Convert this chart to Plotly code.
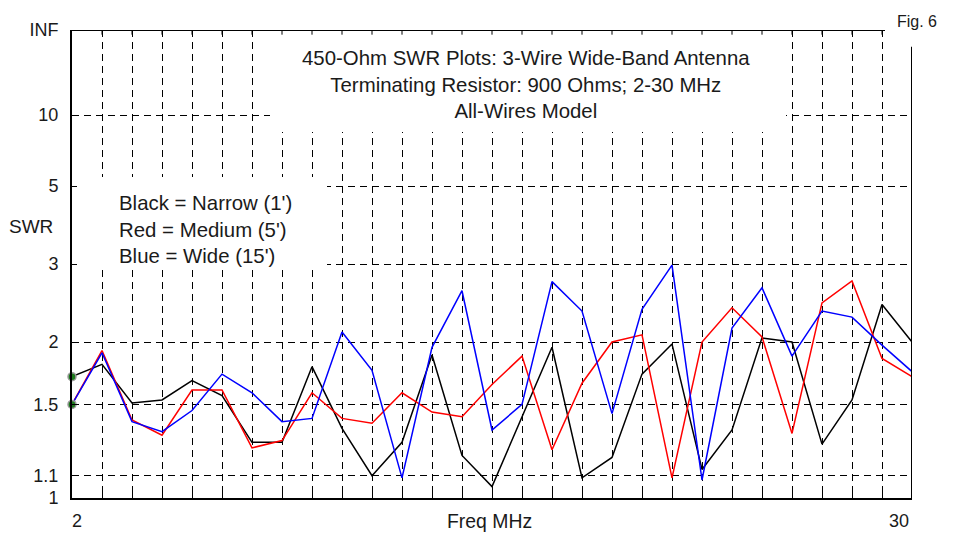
import numpy as np
import plotly.graph_objects as go

# frequency sweep, 2-30 MHz in 1 MHz steps
freq_mhz = list(range(2, 31))

# SWR (450-ohm reference)
swr_black = [1.70, 1.80, 1.51, 1.53, 1.67, 1.56, 1.27, 1.27, 1.78, 1.35,
             1.10, 1.27, 1.88, 1.20, 1.05, 1.42, 1.95, 1.09, 1.19, 1.72,
             1.98, 1.13, 1.34, 2.04, 2.00, 1.26, 1.53, 2.41, 2.00]
swr_red = [1.50, 1.92, 1.40, 1.31, 1.60, 1.60, 1.24, 1.28, 1.58, 1.41,
           1.38, 1.58, 1.45, 1.42, 1.64, 1.87, 1.23, 1.65, 2.00, 2.07,
           1.09, 2.00, 2.37, 2.05, 1.32, 2.43, 2.73, 1.85, 1.70]
swr_blue = [1.50, 1.90, 1.39, 1.33, 1.46, 1.72, 1.58, 1.39, 1.41, 2.10,
            1.75, 1.09, 1.95, 2.59, 1.34, 1.50, 2.72, 2.33, 1.44, 2.35,
            2.98, 1.08, 2.14, 2.63, 1.87, 2.33, 2.26, 1.97, 1.74]

swr_ticks = [1, 1.1, 1.5, 2, 3, 5, 10]
swr_tick_text = ["1", "1.1", "1.5", "2", "3", "5", "10", "INF"]

FONT = "Liberation Sans, Arial, sans-serif"
TXT = "#1a1a1a"


def refl(swr):
    # SWR axis is linear in reflection coefficient
    swr = np.asarray(swr, dtype=float)
    return (swr - 1) / (swr + 1)


fig = go.Figure()

for vals, col in [(swr_black, "black"), (swr_red, "#ff0000"), (swr_blue, "#0000ff")]:
    fig.add_trace(go.Scatter(x=freq_mhz, y=refl(vals), mode="lines",
                             line=dict(color=col, width=1.5), showlegend=False))

# green start markers on the left axis
fig.add_trace(go.Scatter(
    x=[freq_mhz[0]] * 2, y=refl([swr_black[0], swr_red[0]]), mode="markers",
    marker=dict(color="#1e7a1e", size=8, line=dict(color="#9a9a9a", width=1.5)),
    showlegend=False, cliponaxis=False))

shapes = [
    # white boxes behind the text blocks (hide the grid there)
    dict(type="rect", layer="between", xref="x", yref="y", x0=8.6, x1=25.8,
         y0=0.782, y1=1.0, fillcolor="white", line_width=0),
    dict(type="rect", layer="between", xref="x", yref="y", x0=2, x1=10.5,
         y0=0.497, y1=0.686, fillcolor="white", line_width=0),
    dict(type="rect", layer="between", xref="x", yref="y", x0=29.1, x1=30.5,
         y0=0.964, y1=1.05, fillcolor="white", line_width=0),
    # top and right frame
    dict(type="line", layer="above", xref="x", yref="y", x0=2, x1=29.1,
         y0=1, y1=1, line=dict(color="black", width=2)),
    dict(type="line", layer="above", xref="x", yref="y", x0=30, x1=30,
         y0=0, y1=0.964, line=dict(color="black", width=2)),
]
# small ticks hanging from the top frame
for f in freq_mhz[1:-1]:
    shapes.append(dict(type="line", layer="above", xref="x", yref="y", x0=f, x1=f,
                       y0=1, y1=0.99, line=dict(color="black", width=1)))

annotations = [
    dict(x=17.13, y=0.883, xref="x", yref="y", xanchor="center", yanchor="middle",
         showarrow=False,
         text="450-Ohm SWR Plots: 3-Wire Wide-Band Antenna<br>"
              "Terminating Resistor: 900 Ohms; 2-30 MHz<br>All-Wires Model",
         font=dict(size=20.4, family=FONT, color=TXT), align="center"),
    dict(x=3.5, y=0.573, xref="x", yref="y", xanchor="left", yanchor="middle",
         showarrow=False,
         text="Black = Narrow (1')<br>Red = Medium (5')<br>Blue = Wide (15')",
         font=dict(size=20.4, family=FONT, color=TXT), align="left"),
    dict(x=1.006, y=1.019, xref="paper", yref="paper", xanchor="center",
         yanchor="middle", showarrow=False, text="Fig. 6",
         font=dict(size=16, family=FONT, color=TXT)),
    dict(x=-0.0488, y=0.58, xref="paper", yref="y", xanchor="center",
         yanchor="middle", showarrow=False, text="SWR",
         font=dict(size=19, family=FONT, color=TXT)),
    dict(x=15.93, y=-0.05, xref="x", yref="paper", xanchor="center",
         yanchor="middle", showarrow=False, text="Freq MHz",
         font=dict(size=19.4, family=FONT, color=TXT)),
    dict(x=2.17, y=-0.05, xref="x", yref="paper", xanchor="center",
         yanchor="middle", showarrow=False, text="2",
         font=dict(size=18, family=FONT, color=TXT)),
    dict(x=29.55, y=-0.05, xref="x", yref="paper", xanchor="center",
         yanchor="middle", showarrow=False, text="30",
         font=dict(size=18, family=FONT, color=TXT)),
]

# page body has an 8px margin, so the figure is sized to sit inside it
fig.update_layout(
    width=948, height=526,
    margin=dict(l=64, r=44, t=19, b=36),
    paper_bgcolor="white", plot_bgcolor="white",
    shapes=shapes, annotations=annotations,
    xaxis=dict(range=[2, 30], tickvals=freq_mhz, ticktext=[""] * len(freq_mhz),
               showgrid=True, gridcolor="black", gridwidth=1, griddash="7px,5px",
               showline=True, linecolor="black", linewidth=2,
               ticks="inside", ticklen=5, tickcolor="black", zeroline=False),
    yaxis=dict(range=[0, 1], tickvals=list(refl(swr_ticks)) + [1.0],
               ticktext=swr_tick_text,
               showgrid=True, gridcolor="black", gridwidth=1, griddash="7px,5px",
               showline=True, linecolor="black", linewidth=2,
               ticks="inside", ticklen=5, tickcolor="black", zeroline=False,
               ticklabelstandoff=8,
               tickfont=dict(size=18, family=FONT, color=TXT)),
)

fig.write_html("out.html")
